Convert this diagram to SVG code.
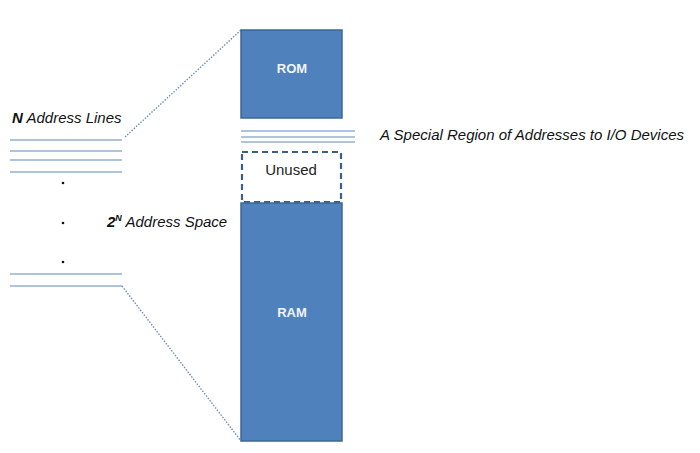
<svg xmlns="http://www.w3.org/2000/svg" width="700" height="453" viewBox="0 0 700 453">
<style>
.blk{fill:#4f81bd;stroke:#3c6796;stroke-width:1.5}
.bus{stroke:#95b1d0;stroke-width:1.6;fill:none}
.dot{stroke:#6f8fb5;stroke-width:1.4;stroke-dasharray:1.5 1.5;fill:none}
.lbl{font-family:"Liberation Sans",Arial,sans-serif;font-size:15px;font-style:italic;fill:#111}
.w{font-family:"Liberation Sans",Arial,sans-serif;font-size:13px;font-weight:bold;fill:#f2f5fa;text-anchor:middle}
.k{font-family:"Liberation Sans",Arial,sans-serif;font-size:15px;fill:#222;text-anchor:middle}
</style>
<rect width="700" height="453" fill="#fff"/>
<g id="connectors">
<line class="dot" x1="125" y1="137" x2="241" y2="30"/>
<line class="dot" x1="122" y1="286" x2="241" y2="441"/>
</g>
<g id="address-lines">
<line class="bus" x1="10" y1="140" x2="122" y2="140"/>
<line class="bus" x1="10" y1="151" x2="122" y2="151"/>
<line class="bus" x1="10" y1="160" x2="122" y2="160"/>
<line class="bus" x1="10" y1="172" x2="122" y2="172"/>
<circle cx="63" cy="183" r="1.3" fill="#111"/>
<circle cx="63" cy="223" r="1.3" fill="#111"/>
<circle cx="63" cy="262" r="1.3" fill="#111"/>
<line class="bus" x1="10" y1="274" x2="122" y2="274"/>
<line class="bus" x1="10" y1="286" x2="122" y2="286"/>
<text class="lbl" x="12" y="123"><tspan font-weight="bold">N</tspan> Address Lines</text>
</g>
<g id="address-space">
<text class="lbl" x="107" y="227"><tspan font-weight="bold">2</tspan><tspan font-weight="bold" font-size="9" dy="-6">N</tspan><tspan dy="6"> Address Space</tspan></text>
</g>
<g id="rom">
<rect class="blk" x="241" y="30" width="101" height="88"/>
<text class="w" x="292" y="73">ROM</text>
</g>
<g id="io-region">
<line class="bus" x1="241" y1="131" x2="355" y2="131"/>
<line class="bus" x1="241" y1="137" x2="355" y2="137"/>
<line class="bus" x1="241" y1="142" x2="355" y2="142"/>
<text class="lbl" x="380" y="140" font-size="15.2">A Special Region of Addresses to I/O Devices</text>
</g>
<g id="unused">
<rect x="242" y="152" width="99" height="50" fill="#fff" stroke="#3c5f86" stroke-width="2.2" stroke-dasharray="6 4"/>
<text class="k" x="291" y="175">Unused</text>
</g>
<g id="ram">
<rect class="blk" x="241" y="203" width="101" height="238"/>
<text class="w" x="292" y="317">RAM</text>
</g>
</svg>
